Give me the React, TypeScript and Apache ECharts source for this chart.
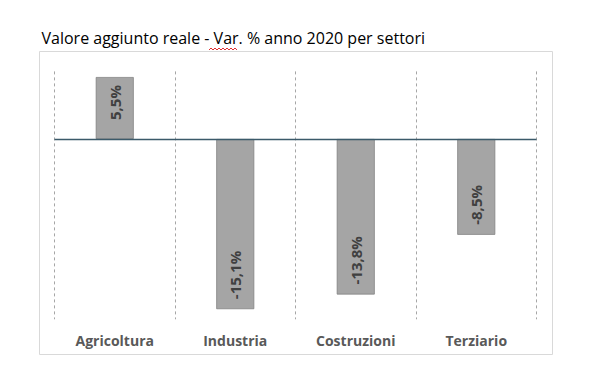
import React, { useEffect, useRef } from "react";
import * as echarts from "echarts";

const title = "Valore aggiunto reale - Var. % anno 2020 per settori";
const categories = ["Agricoltura", "Industria", "Costruzioni", "Terziario"];
const values = [5.5, -15.1, -13.8, -8.5];
const yMin = -16;
const yMax = 6;

const fmt = (v: number) => v.toFixed(1).replace(".", ",") + "%";

export default function App() {
  const ref = useRef<HTMLDivElement>(null);
  useEffect(() => {
    if (!ref.current) return;
    const chart = echarts.init(ref.current, null, { renderer: "svg" });

    const baseLabel = {
      show: true,
      rotate: 90,
      verticalAlign: "middle",
      color: "#404040",
      fontWeight: "bold",
      fontSize: 15,
      fontFamily: '"Open Sans", sans-serif',
      formatter: (p: any) => fmt(p.value),
    };
    const data = values.map((v) => ({
      value: v,
      label:
        v >= 0
          ? { ...baseLabel, position: "insideTop", align: "right", distance: 8 }
          : { ...baseLabel, position: "insideBottom", align: "left", distance: 10 },
    }));

    const squiggle: number[][] = [];
    for (let i = 0; i <= 14; i++) {
      squiggle.push([209 + i * 2, i % 2 === 0 ? 50 : 48]);
    }

    chart.setOption({
      animation: false,
      backgroundColor: "#ffffff",
      grid: { left: 54.5, right: 63.5, top: 71.4, bottom: 70.7, containLabel: false },
      graphic: [
        {
          type: "rect",
          shape: { x: 39.5, y: 51.5, width: 513, height: 303 },
          style: { fill: "none", stroke: "#D9D9D9", lineWidth: 1 },
          silent: true,
        },
        {
          type: "text",
          x: 41.5,
          y: 38.3,
          style: {
            text: title,
            fill: "#000000",
            font: '16px "Open Sans", sans-serif',
            verticalAlign: "middle",
            align: "left",
          },
        },
        {
          type: "polyline",
          shape: { points: squiggle },
          style: { stroke: "#E03030", lineWidth: 1, fill: "none" },
          silent: true,
        },
      ],
      xAxis: {
        type: "category",
        data: categories,
        position: "bottom",
        axisLine: { show: false, onZero: false },
        axisTick: { show: false },
        axisLabel: {
          color: "#595959",
          fontWeight: "bold",
          fontSize: 14,
          fontFamily: '"Open Sans", sans-serif',
          margin: 14,
        },
        splitLine: {
          show: true,
          lineStyle: { color: "#A6A6A6", type: [3, 3], width: 1 },
        },
      },
      yAxis: {
        type: "value",
        min: yMin,
        max: yMax,
        axisLine: { show: false },
        axisTick: { show: false },
        axisLabel: { show: false },
        splitLine: { show: false },
      },
      series: [
        {
          type: "bar",
          data,
          barWidth: 38,
          itemStyle: { color: "#A5A5A5", borderColor: "#7F7F7F", borderWidth: 0.75 },
          markLine: {
            silent: true,
            symbol: "none",
            label: { show: false },
            lineStyle: { color: "#3B5A6A", type: "solid", width: 1.3 },
            data: [{ yAxis: 0 }],
          },
        },
      ],
    });
    return () => chart.dispose();
  }, []);
  return (
    <div
      ref={ref}
      style={{ position: "fixed", left: 0, top: 0, width: 600, height: 390, background: "#fff" }}
    />
  );
}
